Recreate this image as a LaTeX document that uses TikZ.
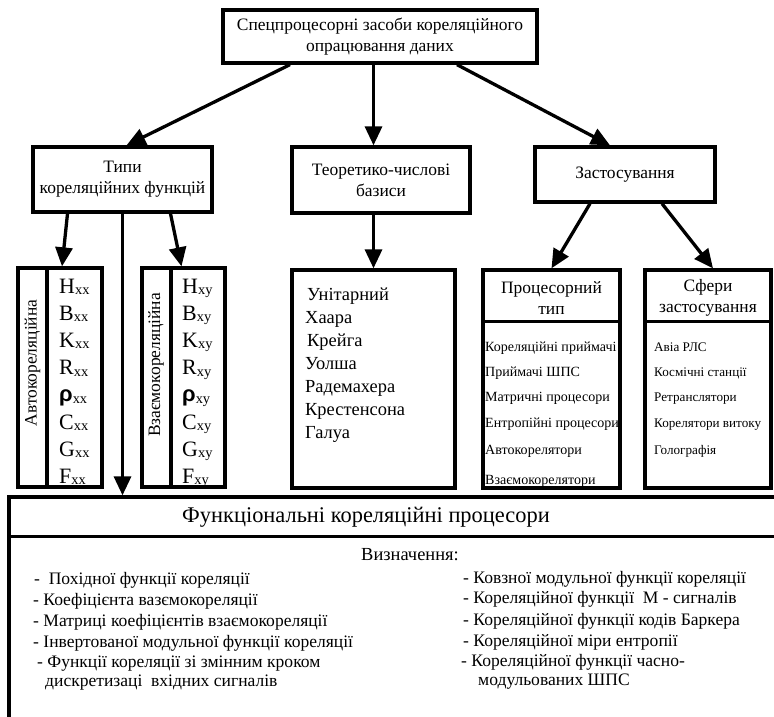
\documentclass[tikz,border=0pt]{standalone}
\usepackage{fontspec}
\setmainfont{Liberation Serif}
\newfontfamily\greeksans{Liberation Sans}
\usetikzlibrary{arrows.meta,calc}

\tikzset{
  box/.style={draw, line width=3.3bp, rectangle, inner sep=0pt},
  rule/.style={line width=3.3bp},
  arr/.style={line width=3.3bp, -{Triangle[length=19bp,width=17bp]}},
  ttl/.style={align=center, font=\fontsize{17.5}{21}\selectfont},
  hdr/.style={align=center, inner sep=0pt, font=\fontsize{17.5}{21}\selectfont},
  item/.style={anchor=base west, inner sep=0pt, font=\fontsize{18.5}{21}\selectfont},
  proitem/.style={anchor=base west, inner sep=0pt, font=\fontsize{14.1}{16}\selectfont},
  smallitem/.style={anchor=base west, inner sep=0pt, font=\fontsize{13.2}{15}\selectfont},
  symitem/.style={anchor=base west, inner sep=0pt, font=\fontsize{22}{25}\selectfont},
  defitem/.style={anchor=base west, inner sep=0pt, font=\fontsize{17.6}{20}\selectfont},
  vlabel/.style={rotate=90, inner sep=0pt, font=\fontsize{17.5}{20}\selectfont},
}

% function symbol with its two-letter index
\newcommand\fsym[2]{#1\raisebox{-1.5bp}{\fontsize{14.5}{14.5}\selectfont #2}}
\newcommand\rhosym{{\greeksans\bfseries ρ}}

\begin{document}
\begin{tikzpicture}[x=1bp,y=-1bp]
\clip (0,0) rectangle (774,717);
\fill[white] (0,0) rectangle (774,717);

% ---- top level
\node[box, ttl, minimum width=314bp, minimum height=53bp] (top) at (380,36.5)
  {Спецпроцесорні засоби кореляційного\\опрацювання даних};

% ---- second level
\node[box, ttl, minimum width=179bp, minimum height=65bp] (tipy) at (122.5,179.5)
  {Типи\\кореляційних функцій};
\node[box, ttl, minimum width=178bp, minimum height=66bp] (teor) at (381,180)
  {Теоретико-числові\\базиси};
\node[box, ttl, minimum width=180bp, minimum height=55bp] (zast) at (625,174.5)
  {Застосування};

% ---- correlation function tables
\node[box, minimum width=84bp, minimum height=219bp] (auto) at (60,377.5) {};
\draw[rule] ([xshift=-13bp]auto.north) -- ([xshift=-13bp]auto.south);
\node[vlabel] (autolbl) at (32.5,363) {Автокореляційна};

\node[box, minimum width=83bp, minimum height=219bp] (vzaem) at (183.5,377.5) {};
\draw[rule] ([xshift=-12.5bp]vzaem.north) -- ([xshift=-12.5bp]vzaem.south);
\node[vlabel] (vzaemlbl) at (156,365) {Взаємокореляційна};

\foreach \i/\s in {0/H,1/B,2/K,3/R,5/C,6/G,7/F}{
  \node[symitem] (ax\i) at (59,{293+27.2*\i}) {\fsym{\s}{xx}};
  \node[symitem] (xy\i) at (182,{293+27.2*\i}) {\fsym{\s}{xy}};
}
\node[symitem] (ax4) at (59,{293+27.2*4}) {\fsym{\rhosym}{xx}};
\node[symitem] (xy4) at (182,{293+27.2*4}) {\fsym{\rhosym}{xy}};

% ---- number-theoretic bases
\node[box, minimum width=163bp, minimum height=218bp] (bazy) at (373.5,379) {};
\foreach \t/\x [count=\i from 0] in {Унітарний/307,Хаара/305,Крейга/307,Уолша/305,Радемахера/305,Крестенсона/305,Галуа/305}{
  \node[item] (bz\i) at (\x,{300+23*\i}) {\t};
}

% ---- processor type
\node[box, minimum width=137bp, minimum height=218bp] (proc) at (551.5,379) {};
\draw[rule] ([yshift=-53bp]proc.north west) -- ([yshift=-53bp]proc.north east);
\node[hdr] (prochdr) at (551.5,298) {Процесорний\\тип};
\foreach \t/\y [count=\i] in {Кореляційні приймачі/351,Приймачі ШПС/376,Матричні процесори/401,
    Ентропійні процесори/427,Автокорелятори/454,Взаємокорелятори/484}{
  \node[proitem] (pr\i) at (485,\y) {\t};
}

% ---- application areas
\node[box, minimum width=126bp, minimum height=218bp] (sfery) at (708,379) {};
\draw[rule] ([yshift=-53bp]sfery.north west) -- ([yshift=-53bp]sfery.north east);
\node[hdr] (sferyhdr) at (708,298) {Сфери\\застосування};
\foreach \t/\y [count=\i] in {Авіа РЛС/351,Космічні станції/376,Ретранслятори/401,
    Корелятори витоку/427,Голографія/454}{
  \node[smallitem] (sf\i) at (654,\y) {\t};
}

% ---- functional correlation processors (runs past the page edge)
\node[box, minimum width=811bp, minimum height=263bp] (bot) at (414.5,628.5) {};
\draw[rule] ([yshift=-41bp]bot.north west) -- ([yshift=-41bp]bot.north east);
\node[inner sep=0pt, font=\fontsize{22.5}{26}\selectfont] (bottitle) at (366,517)
  {Функціональні кореляційні процесори};
\node[inner sep=0pt, font=\fontsize{18.5}{22}\selectfont] (defs) at (410,555) {Визначення:};

\node[defitem] (dl1) at (34,584) {-~ Похідної функції кореляції};
\node[defitem] (dl2) at (33,605) {- Коефіцієнта вазємокореляції};
\node[defitem] (dl3) at (33,626) {- Матриці коефіцієнтів взаємокореляції};
\node[defitem] (dl4) at (33,647) {- Інвертованої модульної функції кореляції};
\node[defitem] (dl5) at (37,667) {- Функції кореляції зі змінним кроком};
\node[defitem] (dl6) at (45,686) {дискретизаці~ вхідних сигналів};

\node[defitem] (dr1) at (463,583) {- Ковзної модульної функції кореляції};
\node[defitem] (dr2) at (463,603) {- Кореляційної функції~ М - сигналів};
\node[defitem] (dr3) at (463,625) {- Кореляційної функції кодів Баркера};
\node[defitem] (dr4) at (463,646) {- Кореляційної міри ентропії};
\node[defitem] (dr5) at (461,666) {- Кореляційної функції часно-};
\node[defitem] (dr6) at (478,685) {модульованих ШПС};

% ---- connectors
\draw[arr] ([xshift=-90bp]top.south) -- ([xshift=4bp]tipy.north);
\draw[arr] (top.south -| bazy.north) -- (teor.north -| bazy.north);
\draw[arr] ([xshift=77bp]top.south) -- ([xshift=-15bp]zast.north);

\draw[arr] ([xshift=-55bp]tipy.south) -- ([xshift=2bp]auto.north);
\draw[arr] ([xshift=48bp]tipy.south) -- ([xshift=-2bp]vzaem.north);
\draw[arr] (tipy.south) -- (tipy.south |- bot.north);

\draw[arr] (teor.south -| bazy.north) -- (bazy.north);

\draw[arr] ([xshift=-35bp]zast.south) -- (proc.north);
\draw[arr] ([xshift=37bp]zast.south) -- ([xshift=5bp]sfery.north);
\end{tikzpicture}
\end{document}
